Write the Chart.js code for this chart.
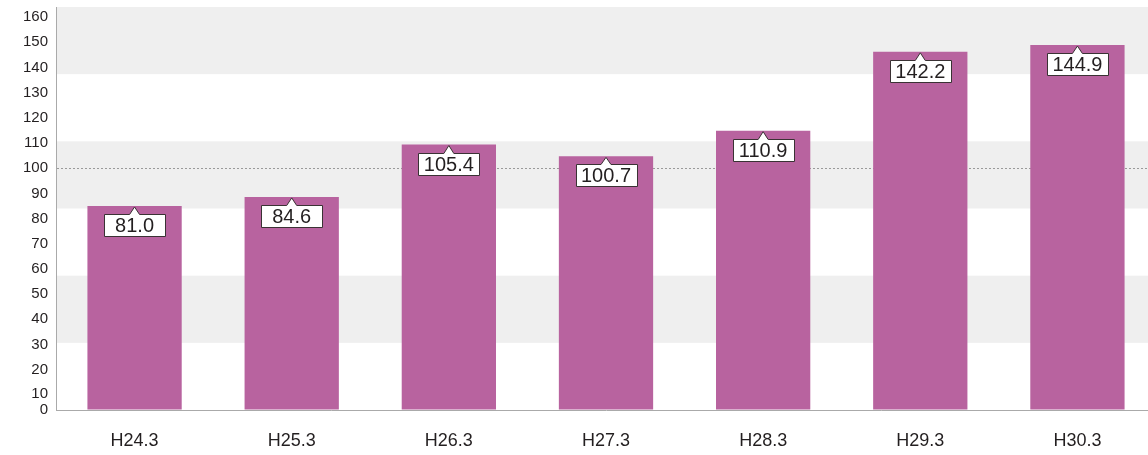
<!DOCTYPE html>
<html>
<head>
<meta charset="utf-8">
<script src="https://cdn.jsdelivr.net/npm/chart.js@4/dist/chart.umd.min.js"></script>
<style>
  html, body { margin: 0; padding: 0; background: #fff; overflow: hidden; }
  #wrap { width: 1156px; height: 455px; }
</style>
</head>
<body>
<div id="wrap"><canvas id="chart" width="1156" height="455"></canvas></div>
<script>
const categories = ["H24.3", "H25.3", "H26.3", "H27.3", "H28.3", "H29.3", "H30.3"];
const values = [81.0, 84.6, 105.4, 100.7, 110.9, 142.2, 144.9];
const yTickLabels = [0, 10, 20, 30, 40, 50, 60, 70, 80, 90, 100, 110, 120, 130, 140, 150, 160];

const FONT = "'Liberation Sans', Arial, Helvetica, sans-serif";

// the printed axis labels sit a little below the real scale in the original
function tickValue(v) {
  if (v === 0) return 0;
  if (v === 10) return 6.5;
  return v - 4;
}

// grey/white stripes behind the plot
const bandsPlugin = {
  id: "bands",
  beforeDraw(chart) {
    const { ctx, chartArea: a } = chart;
    const h = (a.bottom - a.top) / 6;
    ctx.save();
    ctx.fillStyle = "#efefef";
    for (let i = 0; i < 6; i += 2) {
      ctx.fillRect(a.left, a.top + i * h, a.right - a.left, h);
    }
    ctx.restore();
  }
};

// value boxes with a little pointer at the bar top
const calloutPlugin = {
  id: "callouts",
  afterDatasetsDraw(chart) {
    const { ctx } = chart;
    const meta = chart.getDatasetMeta(0);
    ctx.save();
    meta.data.forEach((bar, i) => {
      const x = bar.x;
      const tip = bar.y + 1;
      const top = Math.round(bar.y + 8) + 0.5;
      const w = 61, h = 22;
      const l = Math.round(x - w / 2) + 0.5;
      const r = l + w;
      const b = top + h;
      ctx.beginPath();
      ctx.moveTo(l, top);
      ctx.lineTo(x - 5, top);
      ctx.lineTo(x, tip);
      ctx.lineTo(x + 5, top);
      ctx.lineTo(r, top);
      ctx.lineTo(r, b);
      ctx.lineTo(l, b);
      ctx.closePath();
      ctx.fillStyle = "#fff";
      ctx.fill();
      ctx.strokeStyle = "#3a3234";
      ctx.lineWidth = 1;
      ctx.stroke();
      ctx.fillStyle = "#231f20";
      ctx.font = "20px " + FONT;
      ctx.textAlign = "center";
      ctx.textBaseline = "middle";
      ctx.fillText(values[i].toFixed(1), x, top + h / 2 + 1);
    });
    ctx.restore();
  }
};

new Chart(document.getElementById("chart"), {
  type: "bar",
  data: {
    labels: categories,
    datasets: [{
      data: values,
      backgroundColor: "#b8639f",
      categoryPercentage: 1,
      barPercentage: 0.6
    }]
  },
  options: {
    responsive: false,
    animation: false,
    devicePixelRatio: 1,
    layout: { padding: { top: 7, left: 0, right: 0, bottom: 0 } },
    plugins: {
      legend: { display: false },
      tooltip: { enabled: false }
    },
    scales: {
      x: {
        grid: { display: false, drawTicks: false },
        border: { color: "#aaa", width: 1 },
        ticks: { color: "#231f20", font: { size: 18, family: FONT }, padding: 20 },
        afterFit(scale) { scale.height = 45; }
      },
      y: {
        min: 0,
        max: 160,
        afterBuildTicks(axis) {
          axis.ticks = yTickLabels.map(v => ({ value: tickValue(v) }));
        },
        afterFit(scale) {
          scale.width = 56;
          scale.paddingTop = 0;
          scale.paddingBottom = 0;
        },
        ticks: {
          color: "#231f20",
          font: { size: 15, family: FONT },
          padding: 8,
          callback: (val, i) => String(yTickLabels[i])
        },
        grid: {
          drawTicks: false,
          lineWidth: 1,
          color: c => (c.tick && c.tick.label === "100") ? "#9a9a9a" : "rgba(0,0,0,0)"
        },
        border: { color: "#aaa", width: 1, dash: [2, 2] }
      }
    }
  },
  plugins: [bandsPlugin, calloutPlugin]
});
</script>
</body>
</html>
